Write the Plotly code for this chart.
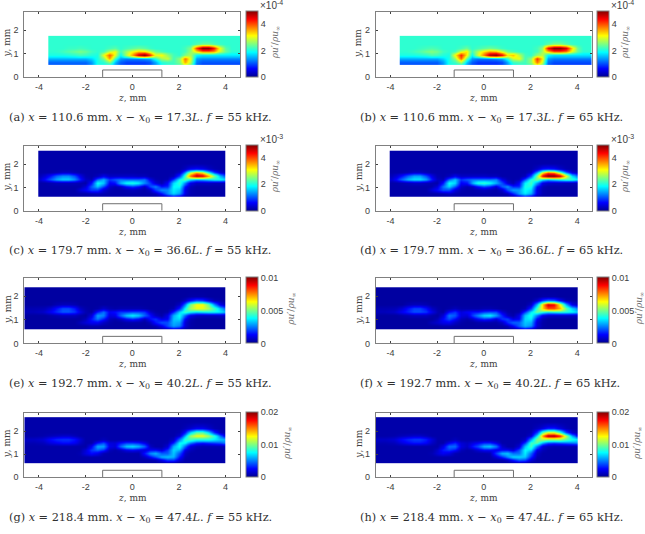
import plotly.graph_objects as go

WIDTH, HEIGHT = 645, 534

# Grid edges of the measurement planes (mm)
z_mid = [-3.875 + 0.25 * i for i in range(0, 32)]
z_edges_wide = [-3.6] + [-3.125 + 0.25 * i for i in range(31)] + [4.62]
z_edges_std = [-4.03] + z_mid + [4.0]
z_edges_left = [-4.63] + z_mid + [4.0]
y_edges_low = [0.5, 0.57, 0.72, 0.87, 1.02, 1.17, 1.32, 1.5, 1.76]
y_edges_mid = [0.6, 0.675, 0.825, 0.975, 1.125, 1.275, 1.425, 1.575, 1.725, 1.9, 2.2, 2.58]
y_edges_short = [0.6, 0.675, 0.825, 0.975, 1.125, 1.275, 1.425, 1.575, 1.725, 1.9, 2.1, 2.38]
y_edges_tall = [0.6, 0.675, 0.825, 0.975, 1.125, 1.275, 1.425, 1.575, 1.725, 1.875, 2.025, 2.2, 2.6]

# Fields in percent of each panel's colour-scale top
field_a = [
    [20,20,20,20,20,20,26,40,38,34,26,20,17,17,17,17,19,26,36,40,42,44,54,46,22,18,18,18,18,18,18,18],
    [23,23,23,23,23,23,28,40,42,52,32,22,19,19,19,19,21,30,42,44,44,50,72,56,25,21,21,21,21,21,21,21],
    [31,31,31,31,31,31,34,40,50,72,44,28,26,26,26,28,30,42,54,58,44,52,78,60,28,26,26,26,26,26,26,26],
    [40,40,41,42,44,43,41,40,60,78,60,38,55,72,92,100,84,60,62,52,44,42,50,54,38,36,36,36,36,36,36,36],
    [42,44,46,48,50,48,44,42,44,56,62,44,54,62,68,66,56,48,44,42,42,42,44,52,64,75,75,72,58,48,42,42],
    [42,42,43,43,44,43,42,42,42,44,46,42,44,46,48,46,43,42,42,42,42,42,44,50,82,100,100,86,62,46,42,42],
    [42,42,42,42,42,42,42,42,42,42,42,42,42,42,42,42,42,42,42,42,42,42,42,42,45,48,48,45,43,42,42,42],
    [42,42,42,42,42,42,42,42,42,42,42,42,42,42,42,42,42,42,42,42,42,42,42,42,42,42,42,42,42,42,42,42],
]
field_b = [
    [19,19,19,19,19,19,26,40,38,34,26,19,16,16,16,16,18,26,36,40,42,44,56,46,21,17,17,17,17,17,17,17],
    [22,22,22,22,22,22,28,40,44,56,34,22,18,18,18,18,20,30,44,46,44,52,76,58,24,20,20,20,20,20,20,20],
    [30,30,30,30,30,30,34,40,52,78,48,28,25,25,25,27,30,42,58,62,44,52,84,64,28,25,25,25,25,25,25,25],
    [40,40,41,42,45,44,41,40,62,84,64,38,58,76,96,100,88,64,68,56,44,42,52,56,38,35,35,35,35,35,35,35],
    [42,44,46,49,51,49,44,42,44,58,66,44,56,66,72,70,58,48,44,42,42,42,44,54,68,80,80,76,60,48,42,42],
    [42,42,43,44,45,44,42,42,42,44,48,42,44,46,48,46,43,42,42,42,42,42,44,52,88,100,100,92,66,48,42,42],
    [42,42,42,42,42,42,42,42,42,42,42,42,42,42,42,42,42,42,42,42,42,42,42,42,46,50,50,46,43,42,42,42],
    [42,42,42,42,42,42,42,42,42,42,42,42,42,42,42,42,42,42,42,42,42,42,42,42,42,42,42,42,42,42,42,42],
]
field_c = [
    [3,3,3,3,3,3,3,3,3,3,3,3,3,3,3,3,3,3,3,3,3,5,10,16,12,4,3,3,3,3,3,3,3],
    [3,3,3,3,3,3,3,3,3,4,5,4,3,3,3,3,3,3,3,3,5,14,26,34,28,10,4,3,3,3,3,3,3],
    [3,3,3,3,3,3,3,8,12,18,18,8,4,3,3,4,5,4,3,6,18,26,26,36,32,10,4,3,3,3,3,3,3],
    [3,3,3,3,3,3,3,3,8,22,32,20,7,4,6,14,18,14,6,20,26,14,16,38,38,14,5,3,3,3,3,3,3],
    [3,3,4,5,5,5,5,4,3,14,38,32,12,14,30,38,40,36,26,18,8,4,12,34,42,26,10,6,6,6,5,5,5],
    [8,14,22,30,34,34,28,16,6,4,22,30,18,22,24,22,22,22,24,10,4,3,4,18,38,48,36,30,32,36,40,40,36],
    [5,8,14,22,26,26,20,10,4,3,5,10,6,6,6,6,6,5,5,3,3,3,3,5,18,44,78,94,90,72,48,30,22],
    [3,3,3,4,6,6,4,3,3,3,3,3,3,3,3,3,3,3,3,3,3,3,3,3,6,26,56,70,62,38,18,8,5],
    [3,3,3,3,3,3,3,3,3,3,3,3,3,3,3,3,3,3,3,3,3,3,3,3,3,6,12,14,12,7,4,3,3],
    [3,3,3,3,3,3,3,3,3,3,3,3,3,3,3,3,3,3,3,3,3,3,3,3,3,3,3,3,3,3,3,3,3],
    [3,3,3,3,3,3,3,3,3,3,3,3,3,3,3,3,3,3,3,3,3,3,3,3,3,3,3,3,3,3,3,3,3],
]
field_d = [
    [3,3,3,3,3,3,3,3,3,3,3,3,3,3,3,3,3,3,3,3,3,5,11,18,13,4,3,3,3,3,3,3,3],
    [3,3,3,3,3,3,3,3,3,4,6,4,3,3,3,3,3,3,3,3,5,16,28,36,30,10,4,3,3,3,3,3,3],
    [3,3,3,3,3,3,3,8,13,20,20,9,4,3,3,4,5,4,3,7,20,28,28,38,34,10,4,3,3,3,3,3,3],
    [3,3,3,3,3,3,3,3,8,24,34,22,7,4,6,14,20,16,8,22,28,16,16,40,40,14,5,3,3,3,3,3,3],
    [3,3,4,5,6,6,5,4,3,14,38,34,12,14,30,40,42,38,30,20,8,4,12,36,44,28,10,7,6,6,5,5,5],
    [8,14,24,32,36,36,30,16,6,4,22,32,18,22,24,24,24,24,26,10,4,3,4,20,40,50,38,32,36,40,44,44,38],
    [5,8,14,22,28,28,20,10,4,3,5,10,6,6,6,6,6,5,5,3,3,3,3,5,20,50,88,100,100,92,62,34,24],
    [3,3,3,4,6,6,4,3,3,3,3,3,3,3,3,3,3,3,3,3,3,3,3,3,6,28,60,78,74,50,24,9,5],
    [3,3,3,3,3,3,3,3,3,3,3,3,3,3,3,3,3,3,3,3,3,3,3,3,3,7,14,16,14,8,4,3,3],
    [3,3,3,3,3,3,3,3,3,3,3,3,3,3,3,3,3,3,3,3,3,3,3,3,3,3,3,3,3,3,3,3,3],
    [3,3,3,3,3,3,3,3,3,3,3,3,3,3,3,3,3,3,3,3,3,3,3,3,3,3,3,3,3,3,3,3,3],
]
field_e = [
    [2,2,2,2,2,2,2,2,2,2,2,2,2,2,2,2,2,2,2,2,2,3,7,12,9,3,2,2,2,2,2,2,2],
    [2,2,2,2,2,2,2,2,2,3,3,2,2,2,2,2,2,2,2,2,4,10,20,28,24,8,3,2,2,2,2,2,2],
    [2,2,2,2,2,2,2,5,8,11,11,6,3,2,2,3,3,3,2,5,14,20,20,30,28,8,3,2,2,2,2,2,2],
    [2,2,2,2,2,2,2,2,5,15,24,15,5,3,6,12,16,12,5,14,18,10,12,32,34,12,4,2,2,2,2,2,2],
    [2,2,3,4,5,5,5,3,2,9,28,25,9,10,22,32,36,32,22,14,6,3,10,30,38,22,9,6,5,5,5,6,6],
    [5,8,12,17,21,21,18,10,4,2,15,24,12,14,18,18,20,20,18,7,3,2,3,16,34,44,38,34,36,38,38,36,32],
    [4,5,8,14,20,20,15,6,3,2,3,7,4,3,4,4,4,4,3,2,2,2,2,4,16,38,54,60,60,54,44,32,24],
    [2,2,2,4,5,5,4,2,2,2,2,2,2,2,2,2,2,2,2,2,2,2,2,2,6,24,50,62,62,48,26,10,6],
    [2,2,2,2,2,2,2,2,2,2,2,2,2,2,2,2,2,2,2,2,2,2,2,2,2,6,14,20,18,10,4,3,2],
    [2,2,2,2,2,2,2,2,2,2,2,2,2,2,2,2,2,2,2,2,2,2,2,2,2,2,3,3,3,2,2,2,2],
    [2,2,2,2,2,2,2,2,2,2,2,2,2,2,2,2,2,2,2,2,2,2,2,2,2,2,2,2,2,2,2,2,2],
]
field_f = [
    [2,2,2,2,2,2,2,2,2,2,2,2,2,2,2,2,2,2,2,2,2,3,8,14,10,3,2,2,2,2,2,2,2],
    [2,2,2,2,2,2,2,2,2,3,3,2,2,2,2,2,2,2,2,2,4,12,22,30,26,8,3,2,2,2,2,2,2],
    [2,2,2,2,2,2,2,5,7,10,11,6,3,2,2,3,3,3,3,6,16,22,22,32,30,8,3,2,2,2,2,2,2],
    [2,2,2,2,2,2,2,2,5,13,20,13,5,3,6,12,16,14,8,18,20,10,12,34,36,12,4,2,2,2,2,2,2],
    [2,2,3,4,5,5,5,3,2,8,24,21,9,8,18,26,34,36,28,16,6,3,10,32,40,24,10,7,6,6,6,6,6],
    [5,8,12,16,20,20,18,10,4,2,13,18,9,12,14,14,18,20,20,8,3,2,3,18,36,48,42,36,38,40,40,38,34],
    [4,5,8,14,19,19,14,6,3,2,3,5,3,3,3,3,4,4,3,2,2,2,2,4,18,44,66,80,80,70,48,34,26],
    [2,2,2,4,5,5,4,2,2,2,2,2,2,2,2,2,2,2,2,2,2,2,2,2,6,30,66,92,88,62,30,10,6],
    [2,2,2,2,2,2,2,2,2,2,2,2,2,2,2,2,2,2,2,2,2,2,2,2,2,7,18,24,22,12,4,3,2],
    [2,2,2,2,2,2,2,2,2,2,2,2,2,2,2,2,2,2,2,2,2,2,2,2,2,2,3,3,3,2,2,2,2],
    [2,2,2,2,2,2,2,2,2,2,2,2,2,2,2,2,2,2,2,2,2,2,2,2,2,2,2,2,2,2,2,2,2],
]
field_g = [
    [3,3,3,3,3,3,3,3,3,3,3,3,3,3,3,3,3,3,3,3,3,4,6,5,3,3,3,3,3,3,3,3,3],
    [3,3,3,3,3,3,3,3,3,3,3,3,3,3,3,3,3,3,3,3,4,10,18,18,8,3,3,3,3,3,3,3,3],
    [3,3,3,3,3,3,3,3,3,3,3,3,3,3,3,3,3,3,6,12,20,30,32,30,14,4,3,3,3,3,3,3,3],
    [3,3,3,3,3,3,3,4,9,13,10,4,3,3,3,3,3,3,14,26,30,22,22,32,20,6,3,3,3,3,3,3,3],
    [3,3,3,3,3,3,3,3,8,18,22,17,5,3,5,10,12,10,8,12,12,8,18,34,30,10,5,3,3,3,3,3,3],
    [3,3,3,3,3,3,3,3,3,12,29,28,10,8,22,32,34,30,22,6,3,3,8,30,38,22,8,5,4,4,4,4,4],
    [4,6,9,11,13,13,11,6,3,3,14,20,9,8,14,18,18,16,10,3,3,3,4,16,38,38,24,16,14,16,18,20,24],
    [6,9,13,16,17,17,14,8,3,3,3,5,3,3,3,3,3,3,3,3,3,3,3,6,24,42,44,40,40,40,36,32,30],
    [3,4,5,6,7,7,5,3,3,3,3,3,3,3,3,3,3,3,3,3,3,3,3,3,8,30,54,62,62,54,42,24,12],
    [3,3,3,3,3,3,3,3,3,3,3,3,3,3,3,3,3,3,3,3,3,3,3,3,4,14,34,46,46,34,16,6,4],
    [3,3,3,3,3,3,3,3,3,3,3,3,3,3,3,3,3,3,3,3,3,3,3,3,3,5,8,12,12,8,4,3,3],
    [3,3,3,3,3,3,3,3,3,3,3,3,3,3,3,3,3,3,3,3,3,3,3,3,3,3,3,3,3,3,3,3,3],
]
field_h = [
    [3,3,3,3,3,3,3,3,3,3,3,3,3,3,3,3,3,3,3,3,3,5,7,6,3,3,3,3,3,3,3,3,3],
    [3,3,3,3,3,3,3,3,3,3,3,3,3,3,3,3,3,3,3,3,6,14,22,20,8,3,3,3,3,3,3,3,3],
    [3,3,3,3,3,3,3,3,3,3,3,3,3,3,3,3,3,3,8,16,26,34,34,32,16,4,3,3,3,3,3,3,3],
    [3,3,3,3,3,3,3,4,8,11,9,4,3,3,3,3,3,4,18,30,32,24,24,36,22,6,3,3,3,3,3,3,3],
    [3,3,3,3,3,3,3,3,7,15,18,14,5,3,4,8,12,12,10,12,12,8,20,38,34,10,5,3,3,3,3,3,3],
    [3,3,3,3,3,3,3,3,3,10,23,23,9,6,14,20,30,32,24,7,3,3,8,32,44,24,8,5,4,4,4,4,4],
    [4,6,9,12,14,14,12,6,3,3,11,16,8,6,9,12,16,16,10,3,3,3,4,18,44,46,30,20,18,20,22,24,26],
    [6,9,13,16,18,18,15,8,3,3,3,5,3,3,3,3,3,3,3,3,3,3,3,6,28,50,54,52,52,52,46,40,36],
    [3,4,5,6,7,7,5,3,3,3,3,3,3,3,3,3,3,3,3,3,3,3,3,3,8,36,74,98,100,88,58,30,14],
    [3,3,3,3,3,3,3,3,3,3,3,3,3,3,3,3,3,3,3,3,3,3,3,3,4,18,46,60,60,44,20,8,4],
    [3,3,3,3,3,3,3,3,3,3,3,3,3,3,3,3,3,3,3,3,3,3,3,3,3,6,10,16,16,10,5,3,3],
    [3,3,3,3,3,3,3,3,3,3,3,3,3,3,3,3,3,3,3,3,3,3,3,3,3,3,3,3,3,3,3,3,3],
]

# Colour-scale tops and tick labels per row of panels
scale_top = [5e-4, 5e-3, 0.01, 0.02]
bar_tickvals = [[0, 2e-4, 4e-4], [0, 2e-3, 4e-3], [0, 0.005, 0.01], [0, 0.01, 0.02]]
bar_ticktext = [["0", "2", "4"], ["0", "2", "4"], ["0", "0.005", "0.01"], ["0", "0.01", "0.02"]]
bar_exponent = ["\u00d710<sup>-4</sup>", "\u00d710<sup>-3</sup>", "", ""]

# Station and frequency captions
stations = ["110.6", "179.7", "192.7", "218.4"]
offsets = ["17.3", "36.6", "40.2", "47.4"]
frequencies = ["55", "65"]
letters = ["a", "b", "c", "d", "e", "f", "g", "h"]

# Roughness element outline
block_z = [-1.27, -1.27, 1.27, 1.27]
block_y = [0, 0.3, 0.3, 0]

z_ticks = [-4, -2, 0, 2, 4]
z_ticktext = ["-4", "-2", "0", "2", "4"]
y_ticks = [0, 1, 2]

fields = [field_a, field_b, field_c, field_d, field_e, field_f, field_g, field_h]
z_edges = [z_edges_wide, z_edges_wide, z_edges_std, z_edges_std,
           z_edges_left, z_edges_left, z_edges_left, z_edges_left]
y_edges = [y_edges_low, y_edges_low, y_edges_mid, y_edges_mid,
           y_edges_short, y_edges_short, y_edges_tall, y_edges_tall]

JET = [[0, "#00008f"], [0.125, "#0000ff"], [0.375, "#00ffff"],
       [0.625, "#ffff00"], [0.875, "#ff0000"], [1, "#800000"]]
GREY = "#808080"
TEXT = "#404040"
SANS = "Liberation Sans, Arial, sans-serif"
SERIF = "DejaVu Serif, serif"

# Pixel layout of the two columns and four rows
col_x = [(24.3, 240.0), (375.7, 591.7)]
col_bar = [246.0, 597.0]
row_y = [(11.7, 77.7), (147.0, 212.7), (280.7, 346.7), (416.7, 481.7)]
row_ymax = [2.8, 2.8, 2.77, 2.79]
label_dx = [[275, 625], [275, 625], [292, 639.5], [287, 637]]


def fx(px):
    return px / WIDTH


def fy(px):
    return 1 - px / HEIGHT


def note(px, py, text, **kw):
    annotations.append(dict(
        xref="paper", yref="paper", x=fx(px), y=fy(py), text=text,
        showarrow=False, xanchor=kw.pop("xanchor", "center"),
        yanchor=kw.pop("yanchor", "middle"), **kw,
    ))


fig = go.Figure()
annotations = []
layout_axes = {}

for i, field in enumerate(fields):
    row, col = i // 2, i % 2
    n = i + 1
    (x0, x1), (y0, y1) = col_x[col], row_y[row]
    top = scale_top[row]
    fig.add_trace(go.Heatmap(
        x=z_edges[i], y=y_edges[i],
        z=[[v * top / 100 for v in r] for r in field],
        zmin=0, zmax=top, zsmooth="best", colorscale=JET,
        xaxis=f"x{n}", yaxis=f"y{n}", hoverinfo="skip",
        colorbar=dict(
            x=fx(col_bar[col]), xanchor="left", xpad=0,
            y=fy(y1), yanchor="bottom", ypad=0,
            thicknessmode="pixels", thickness=12,
            lenmode="pixels", len=y1 - y0,
            outlinecolor=GREY, outlinewidth=1,
            tickmode="array", tickvals=bar_tickvals[row], ticktext=bar_ticktext[row],
            ticks="", tickfont=dict(family=SANS, size=9, color=TEXT),
        ),
    ))
    fig.add_trace(go.Scatter(
        x=block_z, y=block_y, mode="lines", xaxis=f"x{n}", yaxis=f"y{n}",
        line=dict(color="#707070", width=1), showlegend=False, hoverinfo="skip",
    ))
    layout_axes[f"xaxis{n}"] = dict(
        domain=[fx(x0), fx(x1)], anchor=f"y{n}", range=[-4.63, 4.62],
        tickmode="array", tickvals=z_ticks, ticktext=z_ticktext,
        ticks="inside", ticklen=2, tickcolor=TEXT, tickwidth=1,
        showline=True, linecolor=GREY, linewidth=1, mirror="ticks",
        showgrid=False, zeroline=False, ticklabelstandoff=1,
        tickfont=dict(family=SANS, size=9, color=TEXT),
    )
    layout_axes[f"yaxis{n}"] = dict(
        domain=[fy(y1), fy(y0)], anchor=f"x{n}", range=[0, row_ymax[row]],
        tickmode="array", tickvals=y_ticks,
        ticks="inside", ticklen=2, tickcolor=TEXT, tickwidth=1,
        showline=True, linecolor=GREY, linewidth=1, mirror="ticks",
        showgrid=False, zeroline=False, ticklabelstandoff=3,
        tickfont=dict(family=SANS, size=9, color=TEXT),
    )

    note((x0 + x1) / 2, y1 + 21, "<i>z</i>, mm",
         font=dict(family=SERIF, size=9, color=TEXT))
    note(x0 - 17, (y0 + y1) / 2 - 1, "<i>y</i>, mm", textangle=-90,
         font=dict(family=SERIF, size=9, color=TEXT))
    note(label_dx[row][col], (y0 + y1) / 2 - 2, "<i>\u03c1u\u2032</i>/<i>\u03c1u</i><sub>\u221e</sub>",
         textangle=-90, font=dict(family=SERIF, size=9, color="#707070"))
    if bar_exponent[row]:
        note(col_bar[col] + 12, y0 - 7, bar_exponent[row], xanchor="left",
             font=dict(family=SANS, size=10, color=TEXT))
    caption = (f"({letters[i]}) <i>x</i> = {stations[row]} mm. "
               f"<i>x</i> \u2212 <i>x</i><sub>0</sub> = {offsets[row]}<i>L</i>. "
               f"<i>f</i> = {frequencies[col]} kHz.")
    note(x0 - 17.5, y1 + 41, caption, xanchor="left",
         font=dict(family=SERIF, size=11.3, color="#303030"))

fig.update_layout(
    width=WIDTH, height=HEIGHT, autosize=False,
    margin=dict(l=0, r=0, t=0, b=0),
    paper_bgcolor="white", plot_bgcolor="white",
    showlegend=False, annotations=annotations, **layout_axes,
)

fig.write_html("out.html", config={"displayModeBar": False})
